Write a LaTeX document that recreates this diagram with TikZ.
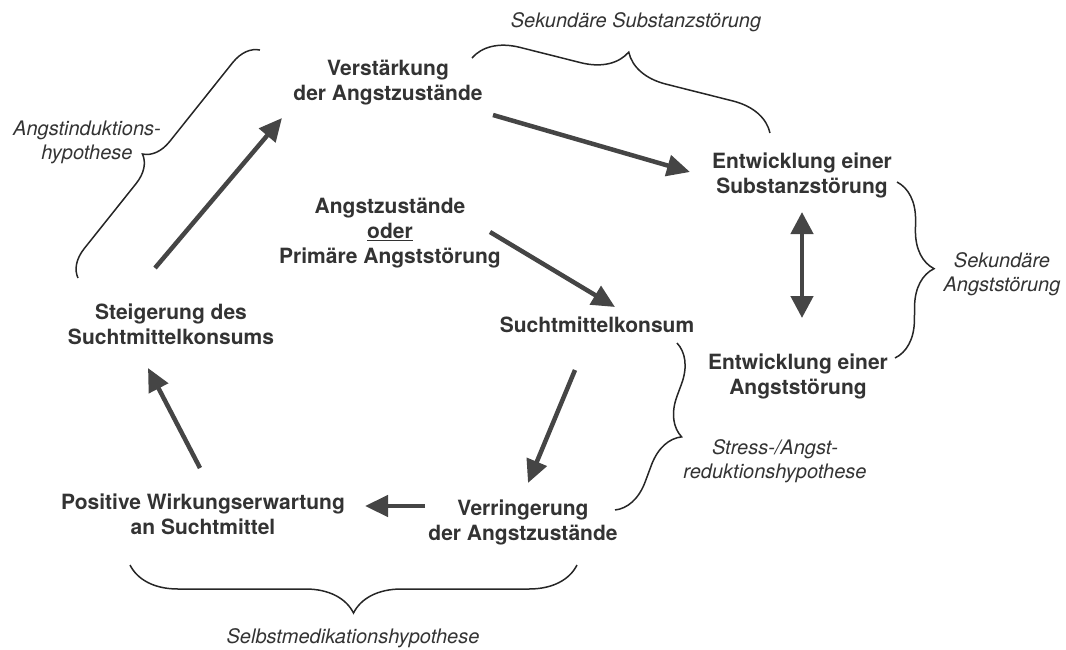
\documentclass[tikz,border=0pt]{standalone}
\usepackage{fontspec}
\setmainfont{TeX Gyre Heros}
\usetikzlibrary{arrows.meta,decorations.pathreplacing}
\definecolor{txt}{HTML}{333333}
\definecolor{arrowc}{HTML}{454545}
\begin{document}
\begin{tikzpicture}[x=1pt,y=-1pt,
  box/.style={font=\bfseries\fontsize{21}{25}\selectfont, text=txt, align=center, inner sep=0pt},
  lab/.style={font=\itshape\fontsize{20}{24}\selectfont, text=txt, align=center, inner sep=0pt},
  arr/.style={line width=4.5pt, draw=arrowc, -{Triangle[length=23pt,width=21pt]}},
  darr/.style={line width=4.5pt, draw=arrowc, {Triangle[length=22pt,width=22pt]}-{Triangle[length=22pt,width=22pt]}},
  brc/.style 2 args={draw=black!85, line width=1.5pt, decorate, decoration={brace, amplitude=#1, aspect=#2}},
]
\useasboundingbox (0,0) rectangle (1066,649);

% main statements
\node[box] (verst) at (388,83) {Verstärkung\\der Angstzustände};
\node[box] (entS) at (802,175) {Entwicklung einer\\Substanzstörung};
\node[box] (angst) at (390,233) {Angstzustände\\\underline{oder}\\Primäre Angststörung};
\node[box] (sucht) at (597,325) {Suchtmittelkonsum};
\node[box] (steig) at (171,324) {Steigerung des\\Suchtmittelkonsums};
\node[box] (entA) at (798,376) {Entwicklung einer\\Angststörung};
\node[box] (verr) at (523,522) {Verringerung\\der Angstzustände};
\node[box] (pos) at (203,514) {Positive Wirkungserwartung\\an Suchtmittel};

% hypothesis labels
\node[lab] (lSekS) at (636,22) {Sekundäre Substanzstörung};
\node[lab] (lInd) at (87,142) {Angstinduktions-\\hypothese};
\node[lab] (lSekA) at (1002,274) {Sekundäre\\Angststörung};
\node[lab] (lStress) at (775,461) {Stress-/Angst-\\reduktionshypothese};
\node[lab] (lSelbst) at (353,638) {Selbstmedikationshypothese};

% arrows
\draw[arr] ([shift={(-16,-56)}]steig.center) -- ([shift={(-106,35)}]verst.center);
\draw[arr] ([shift={(105,32)}]verst.center) -- ([shift={(-112,-3)}]entS.center);
\draw[arr] ([shift={(100,-1)}]angst.center) -- ([shift={(18,-18)}]sucht.center);
\draw[arr] ([shift={(-22,45)}]sucht.center) -- ([shift={(5,-39)}]verr.center);
\draw[arr] ([shift={(-98,-16)}]verr.center) -- ([shift={(162,-8)}]pos.center);
\draw[arr] ([shift={(-3,-46)}]pos.center) -- ([shift={(-23,44)}]steig.center);
\draw[darr] ([shift={(0,37)}]entS.center) -- ([shift={(4,-58)}]entA.center);

% braces
\draw[brc={44pt}{0.49}] ([shift={(84,-25)}]verst.center) -- ([shift={(-32,-42)}]entS.center);
\draw[brc={38pt}{0.49}] ([shift={(95,7)}]entS.center) -- ([shift={(97,-18)}]entA.center);
\draw[brc={37pt}{0.485}] ([shift={(80,18)}]sucht.center) -- ([shift={(92,-12)}]verr.center);
\draw[brc={27pt}{0.47}] ([shift={(-93,-46)}]steig.center) -- ([shift={(-128,-33)}]verst.center);
\draw[brc={48pt}{0.5}] ([shift={(54,43)}]verr.center) -- ([shift={(-73,51)}]pos.center);
\end{tikzpicture}
\end{document}
